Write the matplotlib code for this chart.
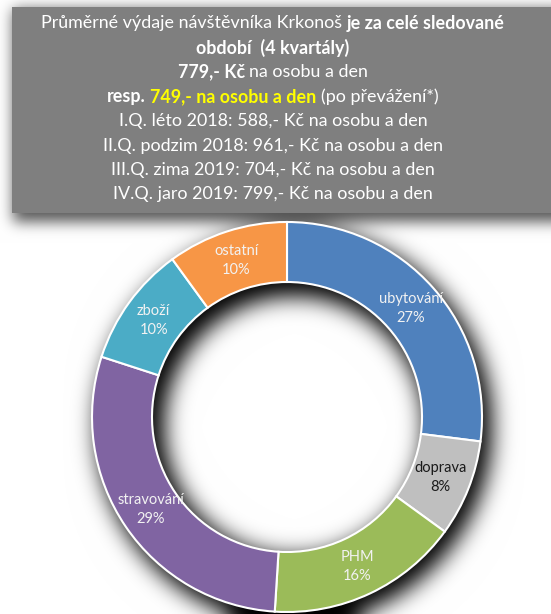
import numpy as np
import matplotlib
matplotlib.use("Agg")
import matplotlib.pyplot as plt
from matplotlib.patches import Rectangle

# data
categories = ["ubytování", "doprava", "PHM", "stravování", "zboží", "ostatní"]
shares = [27, 8, 16, 29, 10, 10]
colors = ["#4F81BD", "#BFBFBF", "#9BBB59", "#8064A2", "#4BACC6", "#F79646"]
label_colors = ["#F2F2F2", "#1a1a1a", "#F2F2F2", "#F2F2F2", "#F2F2F2", "#F2F2F2"]

# text lines of the box: (text, bold, color)
header_lines = [
    [("Průměrné výdaje návštěvníka Krkonoš ", False, "white"), ("je za celé sledované", True, "white")],
    [("období  (4 kvartály)", True, "white")],
    [("779,- Kč", True, "white"), (" na osobu a den", False, "white")],
    [("resp. ", True, "white"), ("749,- na osobu a den", True, "#FFFF00"), (" (po převážení*)", False, "white")],
    [("I.Q. léto 2018: 588,- Kč na osobu a den", False, "white")],
    [("II.Q. podzim 2018: 961,- Kč na osobu a den", False, "white")],
    [("III.Q. zima 2019: 704,- Kč na osobu a den", False, "white")],
    [("IV.Q. jaro 2019: 799,- Kč na osobu a den", False, "white")],
]

plt.rcParams['font.family'] = ['Lato', 'DejaVu Sans']

W, H = 551, 614
fig = plt.figure(figsize=(W / 100, H / 100), dpi=100)
fig.patch.set_facecolor("white")

# background with soft shadows
bg = fig.add_axes([0, 0, 1, 1])
bg.axis("off")

def blur(a, s):
    p = int(3 * s)
    k = np.exp(-0.5 * (np.arange(-p, p + 1) / s) ** 2)
    k /= k.sum()
    a = np.pad(a, p, mode="edge")
    a = np.apply_along_axis(lambda m: np.convolve(m, k, mode="same"), 0, a)
    a = np.apply_along_axis(lambda m: np.convolve(m, k, mode="same"), 1, a)
    return a[p:-p, p:-p]

cx, cy, R, r_in = 287, 417, 195, 135
box_x0, box_y0, box_y1 = 12, 7, 213

yy, xx = np.mgrid[0:H, 0:W]
rr = np.hypot(xx - cx - 7, yy - cy - 9)
ring = ((rr <= R + 3) & (rr >= r_in - 5)).astype(float)
ring_sh = blur(ring, 11)
box = ((xx >= box_x0 + 1) & (yy >= box_y0 + 2) & (yy <= box_y1 + 8)).astype(float)
box_sh = blur(box, 7)
shade = 1 - 1.0 * ring_sh - 0.65 * box_sh
shade = np.clip(shade, 0, 1)
img = np.dstack([shade, shade, shade])
bg.imshow(img, extent=(0, W, H, 0), interpolation="bilinear", aspect="auto", zorder=0)
bg.set_xlim(0, W)
bg.set_ylim(H, 0)

bg.add_patch(Rectangle((box_x0, box_y0), W - box_x0 + 5, box_y1 - box_y0,
                       facecolor="#7F7F7F", edgecolor="none", zorder=1))

# header text, centered line by line
renderer = fig.canvas.get_renderer()
fs = 12.9
text_cx = 273
line_y0, line_step = 23, 24.5

def space_width(bold):
    w2 = bg.text(0, 0, "a a", fontsize=fs, fontweight="bold" if bold else "normal")
    w1 = bg.text(0, 0, "aa", fontsize=fs, fontweight="bold" if bold else "normal")
    d = w2.get_window_extent(renderer).width - w1.get_window_extent(renderer).width
    w2.remove()
    w1.remove()
    return d

sp = {True: space_width(True), False: space_width(False)}

for i, parts in enumerate(header_lines):
    y = line_y0 + i * line_step
    items = []
    for s, bold, col in parts:
        core = s.strip(" ")
        lead = len(s) - len(s.lstrip(" "))
        trail = len(s) - len(s.rstrip(" "))
        t = bg.text(0, y, core, fontsize=fs, color=col,
                    fontweight="bold" if bold else "normal",
                    ha="left", va="center", zorder=3)
        w = t.get_window_extent(renderer).width
        items.append((t, lead * sp[bold], w, trail * sp[bold]))
    total = sum(a + b + c for _, a, b, c in items)
    x = text_cx - total / 2
    for t, a, b, c in items:
        x += a
        t.set_x(x)
        x += b + c

# donut
ax = fig.add_axes([(cx - R) / W, (H - cy - R) / H, 2 * R / W, 2 * R / H])
ax.set_facecolor("none")
labels = [f"{c}\n{v}%" for c, v in zip(categories, shares)]
wedges, texts = ax.pie(shares, colors=colors, labels=labels, startangle=90,
                       counterclock=False, radius=1, labeldistance=0.845,
                       wedgeprops=dict(width=1 - r_in / R, edgecolor="white", linewidth=1.5),
                       textprops=dict(fontsize=10.5, linespacing=1.45))
for t, col in zip(texts, label_colors):
    t.set_ha("center")
    t.set_va("center")
    t.set_color(col)
    t.set_multialignment("center")
ax.set_xlim(-1, 1)
ax.set_ylim(-1, 1)
ax.axis("off")

fig.savefig("out.png", dpi=100)
